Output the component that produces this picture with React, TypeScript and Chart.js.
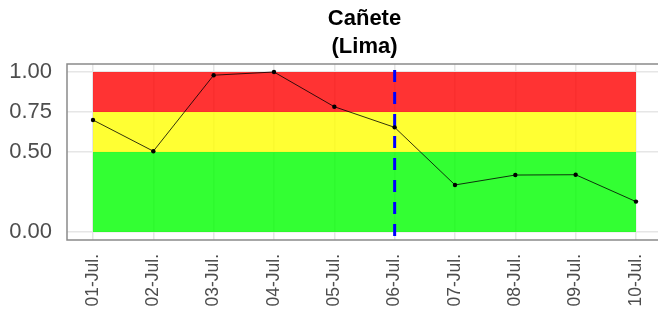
import React, { useEffect, useRef } from "react";
import { Chart, registerables } from "chart.js";

Chart.register(...registerables);

const categories = ["01-Jul.", "02-Jul.", "03-Jul.", "04-Jul.", "05-Jul.", "06-Jul.", "07-Jul.", "08-Jul.", "09-Jul.", "10-Jul."];
const values = [0.70, 0.505, 0.98, 1.0, 0.783, 0.654, 0.294, 0.356, 0.358, 0.19];
const yTicks = [0, 0.5, 0.75, 1];
const bandTops = [0.5, 0.75, 1.0];
const bandColors = ["rgba(0,255,0,0.8)", "rgba(255,255,0,0.8)", "rgba(255,0,0,0.8)"];
const markerDate = "06-Jul.";
const titleLines = ["Cañete", "(Lima)"];

const FONT = '"Liberation Sans", Arial, Helvetica, sans-serif';

export default function App() {
  const ref = useRef<HTMLCanvasElement | null>(null);

  useEffect(() => {
    if (!ref.current) return;
    const first = 0;
    const last = categories.length - 1;
    const markerIdx = categories.indexOf(markerDate);

    const bandDatasets = bandTops.map((top, i) => ({
      label: "band" + i,
      data: [{ x: first, y: top }, { x: last, y: top }],
      borderWidth: 0,
      borderColor: "rgba(0,0,0,0)",
      backgroundColor: bandColors[i],
      pointRadius: 0,
      pointHoverRadius: 0,
      fill: i === 0 ? "origin" : "-1",
      order: 3,
    }));

    const titlePlugin = {
      id: "customTitle",
      afterDraw(chart: any) {
        const { ctx, chartArea } = chart;
        ctx.save();
        ctx.font = `bold 22px ${FONT}`;
        ctx.fillStyle = "#000";
        ctx.textAlign = "center";
        ctx.textBaseline = "alphabetic";
        const cx = (chartArea.left + chartArea.right) / 2 + 2;
        ctx.fillText(titleLines[0], cx, 25);
        ctx.fillText(titleLines[1], cx, 53);
        ctx.restore();
      },
    };

    const borderPlugin = {
      id: "panelBorder",
      afterDatasetsDraw(chart: any) {
        const { ctx, chartArea, width } = chart;
        ctx.save();
        ctx.strokeStyle = "#8a8a8a";
        ctx.lineWidth = 1.5;
        ctx.beginPath();
        ctx.moveTo(width + 5, chartArea.top);
        ctx.lineTo(chartArea.left, chartArea.top);
        ctx.lineTo(chartArea.left, chartArea.bottom);
        ctx.lineTo(width + 5, chartArea.bottom);
        ctx.stroke();
        ctx.restore();
      },
    };

    const chart = new Chart(ref.current, {
      type: "line",
      data: {
        datasets: [
          ...bandDatasets,
          {
            label: "marker",
            data: [{ x: markerIdx, y: 1.05 }, { x: markerIdx, y: -0.05 }],
            borderColor: "#0000FF",
            borderWidth: 3,
            borderDash: [12, 10],
            borderDashOffset: 16,
            borderCapStyle: "butt",
            pointRadius: 0,
            pointHoverRadius: 0,
            fill: false,
            order: 1,
          },
          {
            label: "values",
            data: values.map((v, i) => ({ x: i, y: v })),
            borderColor: "#000",
            borderWidth: 0.8,
            pointRadius: 2.2,
            pointBackgroundColor: "#000",
            pointBorderWidth: 0,
            fill: false,
            tension: 0,
            order: 0,
          },
        ] as any,
      },
      options: {
        animation: false,
        responsive: false,
        events: [],
        layout: { autoPadding: false, padding: { top: 64, left: 0, right: 0, bottom: 0 } },
        plugins: { legend: { display: false }, tooltip: { enabled: false }, title: { display: false } },
        scales: {
          x: {
            type: "linear",
            min: -0.431,
            max: 9.365,
            afterBuildTicks(scale: any) {
              scale.ticks = categories.map((_, i) => ({ value: i }));
            },
            afterFit(scale: any) {
              scale.height = 77;
              scale.paddingLeft = 0;
              scale.paddingRight = 0;
            },
            grid: { color: "#e6e6e6", lineWidth: 1.5, drawTicks: false },
            border: { display: false },
            ticks: {
              autoSkip: false,
              maxRotation: 90,
              minRotation: 90,
              padding: 14,
              color: "#4d4d4d",
              font: { family: FONT, size: 17.5 },
              callback: (v: any) => categories[v as number] ?? "",
            },
          },
          y: {
            type: "linear",
            min: -0.05,
            max: 1.05,
            afterBuildTicks(scale: any) {
              scale.ticks = yTicks.map((v) => ({ value: v }));
            },
            afterFit(scale: any) {
              scale.width = 67;
              scale.paddingTop = 0;
              scale.paddingBottom = 0;
            },
            grid: { color: "#e6e6e6", lineWidth: 1.5, drawTicks: false },
            border: { display: false },
            ticks: {
              padding: 15,
              color: "#4d4d4d",
              font: { family: FONT, size: 22 },
              callback: (v: any) => Number(v).toFixed(2),
            },
          },
        },
      } as any,
      plugins: [titlePlugin, borderPlugin],
    });
    return () => chart.destroy();
  }, []);

  return (
    <div style={{ position: "fixed", left: 0, top: 0, width: 658, height: 317, background: "#fff" }}>
      <canvas ref={ref} width={658} height={317} style={{ display: "block" }} />
    </div>
  );
}
